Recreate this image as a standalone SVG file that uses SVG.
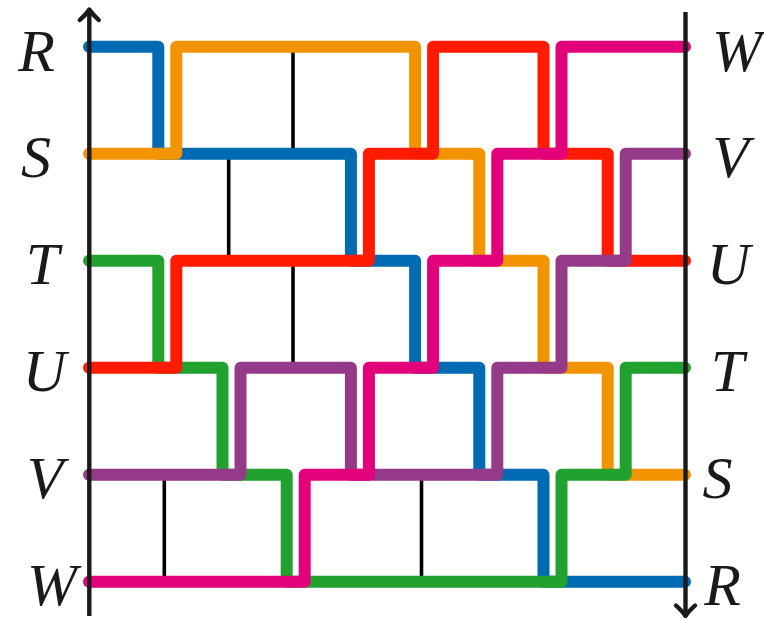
<svg xmlns="http://www.w3.org/2000/svg" width="764" height="620" viewBox="0 0 764 620">
  <style>
    .strand { fill: none; stroke-width: 12; stroke-linejoin: round; stroke-linecap: round; }
    .rung { stroke: #000; stroke-width: 3.6; }
    .axis { stroke: #1a1a1a; stroke-width: 4.4; fill: none; }
    .lbl { font-family: "Liberation Serif", "DejaVu Serif", serif; font-style: italic; font-size: 60px; fill: #1a1a1a; text-anchor: middle; }
  </style>
  <defs>
    <marker id="arr" markerUnits="userSpaceOnUse" viewBox="-14 -14 28 28" markerWidth="28" markerHeight="28" refX="0" refY="0" orient="auto" overflow="visible">
      <path d="M-10.5,-9.5 Q-4,-2.5 0,0 Q-4,2.5 -10.5,9.5" fill="none" stroke="#1a1a1a" stroke-width="4.4" stroke-linecap="round" stroke-linejoin="round"/>
    </marker>
  </defs>

  <g id="rungs">
    <line class="rung" x1="293" y1="46.7" x2="293" y2="153.7"/>
    <line class="rung" x1="228.7" y1="153.7" x2="228.7" y2="260.7"/>
    <line class="rung" x1="293" y1="260.7" x2="293" y2="367.7"/>
    <line class="rung" x1="164.3" y1="474.7" x2="164.3" y2="581.7"/>
    <line class="rung" x1="421.5" y1="474.7" x2="421.5" y2="581.7"/>
  </g>

  <g id="connectors">
    <path id="strand-R" class="strand" stroke="#006AB2" d="M89,46.7 H158.3 V153.7 H350.9 V260.7 H415.1 V367.7 H479.3 V474.7 H543.5 V581.7 H685"/>
    <path id="strand-S" class="strand" stroke="#F29400" d="M89,153.7 H176.3 V46.7 H415.1 V153.7 H479.3 V260.7 H543.5 V367.7 H607.7 V474.7 H685"/>
    <path id="strand-T" class="strand" stroke="#22A12F" d="M89,260.7 H158.3 V367.7 H222.5 V474.7 H286.7 V581.7 H561.5 V474.7 H625.7 V367.7 H685"/>
    <path id="strand-U" class="strand" stroke="#FF1A00" d="M89,367.7 H176.3 V260.7 H368.9 V153.7 H433.1 V46.7 H543.5 V153.7 H607.7 V260.7 H685"/>
    <path id="strand-V" class="strand" stroke="#953A88" d="M89,474.7 H240.5 V367.7 H350.9 V474.7 H497.3 V367.7 H561.5 V260.7 H625.7 V153.7 H685"/>
    <path id="strand-W" class="strand" stroke="#E3007B" d="M89,581.7 H304.7 V474.7 H368.9 V367.7 H433.1 V260.7 H497.3 V153.7 H561.5 V46.7 H685"/>
  </g>

  <g id="axes">
    <line id="axis-left" class="axis" x1="89.3" y1="616" x2="89.3" y2="9.5" marker-end="url(#arr)"/>
    <line id="axis-right" class="axis" x1="685.5" y1="12" x2="685.5" y2="616" marker-end="url(#arr)"/>
  </g>

  <g id="labels-left">
    <text class="lbl" x="36.5" y="71">R</text>
    <text class="lbl" x="36" y="177">S</text>
    <text class="lbl" x="42.5" y="284">T</text>
    <text class="lbl" x="44.5" y="391">U</text>
    <text class="lbl" x="45" y="498">V</text>
    <text class="lbl" x="52" y="605">W</text>
  </g>
  <g id="labels-right">
    <text class="lbl" x="737" y="71">W</text>
    <text class="lbl" x="730.5" y="177">V</text>
    <text class="lbl" x="728.5" y="284">U</text>
    <text class="lbl" x="727.5" y="391">T</text>
    <text class="lbl" x="717.5" y="498">S</text>
    <text class="lbl" x="722.5" y="605">R</text>
  </g>
</svg>
